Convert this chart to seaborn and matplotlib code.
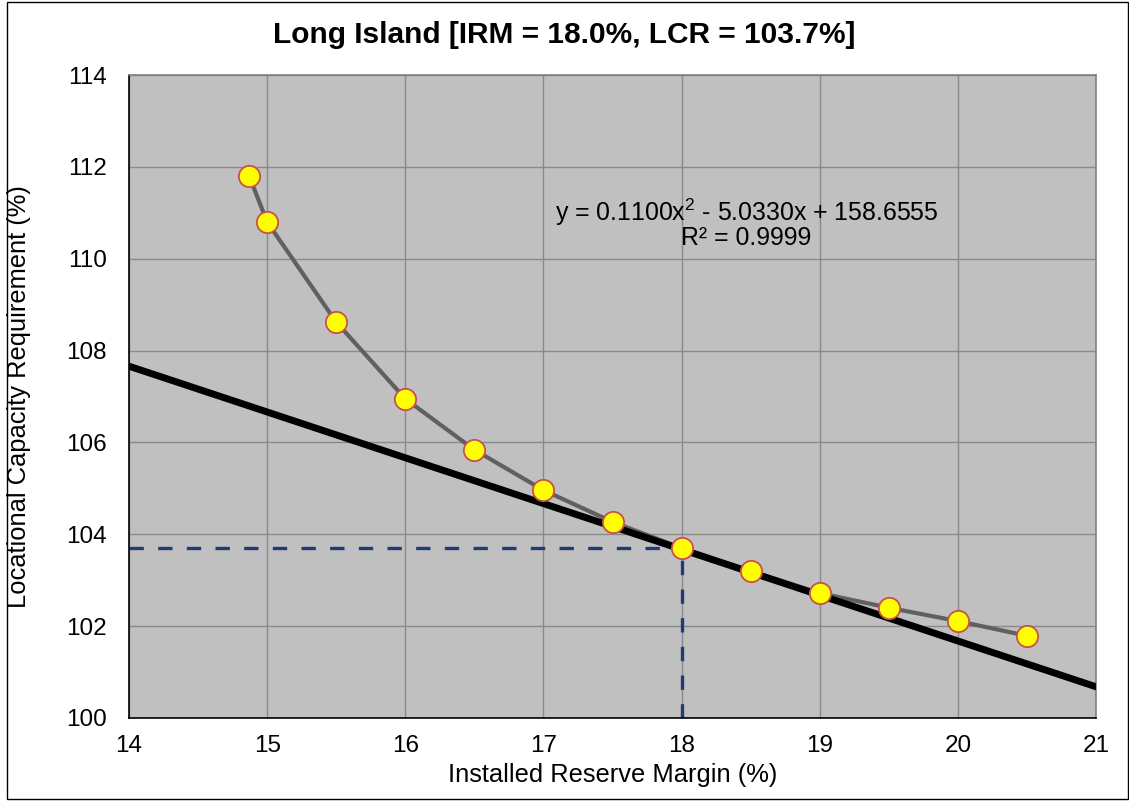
import matplotlib
matplotlib.use("Agg")
import matplotlib.pyplot as plt
import seaborn as sns
import pandas as pd
from matplotlib.patches import Rectangle

# ---- data ----
irm = [14.87, 15.0, 15.5, 16.0, 16.5, 17.0, 17.5, 18.0, 18.5, 19.0, 19.5, 20.0, 20.5]
lcr = [111.80, 110.80, 108.62, 106.95, 105.84, 104.96, 104.27, 103.70, 103.20, 102.72, 102.40, 102.11, 101.79]
tangent_x = [14.0, 21.0]
tangent_y = [107.66, 100.68]
sel_irm = 18.0
sel_lcr = 103.7
x_ticks = [14, 15, 16, 17, 18, 19, 20, 21]
y_ticks = [100, 102, 104, 106, 108, 110, 112, 114]
title = "Long Island [IRM = 18.0%, LCR = 103.7%]"
x_label = "Installed Reserve Margin (%)"
y_label = "Locational Capacity Requirement (%)"
eq_text = "y = 0.1100x$^2$ - 5.0330x + 158.6555"
r2_text = "R² = 0.9999"

sns.set_style("white")
plt.rcParams['font.family'] = ['Liberation Sans', 'DejaVu Sans']
plt.rcParams['mathtext.fontset'] = 'custom'
plt.rcParams['mathtext.rm'] = 'Liberation Sans'
plt.rcParams['text.color'] = 'black'
plt.rcParams['axes.labelcolor'] = 'black'
plt.rcParams['xtick.color'] = 'black'
plt.rcParams['ytick.color'] = 'black'

fig = plt.figure(figsize=(11.29, 8.01), dpi=100)
ax = fig.add_axes([129/1129, 1-718/801, (1096-129)/1129, (718-75)/801])
ax.set_facecolor("#C0C0C0")

df = pd.DataFrame({"irm": irm, "lcr": lcr})
tan = pd.DataFrame({"x": tangent_x, "y": tangent_y})

# dashed guides
ax.plot([tangent_x[0], sel_irm], [sel_lcr, sel_lcr], color="#1F3C74", lw=2.4,
        dashes=(4.3, 4.3), zorder=2)
ax.plot([sel_irm, sel_irm], [y_ticks[0], sel_lcr], color="#1F3C74", lw=2.4,
        dashes=(4.3, 4.3), zorder=2)

sns.lineplot(data=df, x="irm", y="lcr", ax=ax, color="#606060", lw=3,
             sort=False, zorder=3)
sns.lineplot(data=tan, x="x", y="y", ax=ax, color="black", lw=5, zorder=4)
sns.scatterplot(data=df, x="irm", y="lcr", ax=ax, s=235, color="#FFFF00",
                edgecolor="#C8504D", linewidth=1.3, zorder=5)

ax.set_xlim(14, 21)
ax.set_ylim(100, 114)
ax.set_xticks(x_ticks)
ax.set_yticks(y_ticks)
ax.grid(True, color="#8A8A8A", lw=1)
ax.set_axisbelow(True)
ax.tick_params(axis="x", length=0, pad=12, labelsize=17.5)
ax.tick_params(axis="y", length=0, pad=16, labelsize=17.5)
for s in ["top", "right"]:
    ax.spines[s].set_color("#808080")
for s in ["left", "bottom"]:
    ax.spines[s].set_color("black")
for s in ax.spines.values():
    s.set_linewidth(1.2)

ax.set_xlabel(x_label, fontsize=18.4)
ax.set_ylabel(y_label, fontsize=18.4)
ax.xaxis.set_label_coords(0.5, -(775-718)/643)
ax.xaxis.label.set_va("center")
ax.yaxis.set_label_coords(-0.101, 0.5)

ax.text(18.47, 111.02, eq_text, ha="center", va="center", fontsize=17.9)
ax.text(18.47, 110.45, r2_text, ha="center", va="center", fontsize=17.9)

fig.text(0.5, 1-35/801, title, ha="center", va="center", fontsize=21.5,
         fontweight="bold")

fig.patches.append(Rectangle((7/1129, 0.002), 1-8/1129, 1-4/801,
                             transform=fig.transFigure, fill=False,
                             edgecolor="black", lw=1))

fig.savefig("out.png", dpi=100, facecolor="white")
